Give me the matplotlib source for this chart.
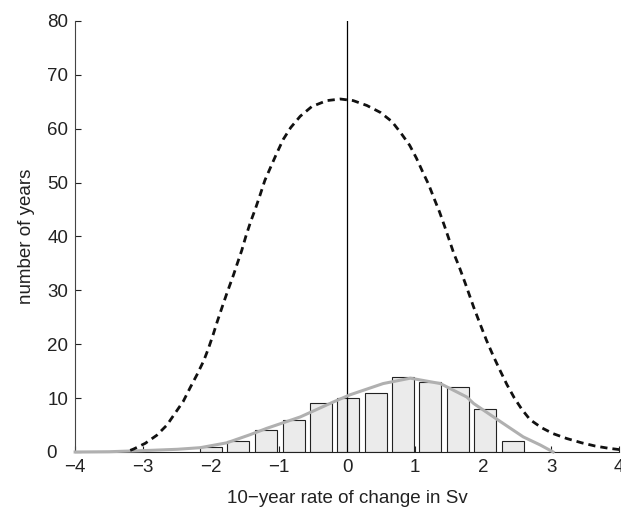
import matplotlib.pyplot as plt
from matplotlib.transforms import ScaledTranslation

plt.rcParams["font.family"] = ["Liberation Sans", "DejaVu Sans"]
plt.rcParams["axes.unicode_minus"] = True

# histogram of 10-year rates
bin_centers = [-2.0, -1.6, -1.19, -0.785, -0.38, 0.015, 0.42, 0.825, 1.22, 1.63, 2.03, 2.44]
counts = [1, 2, 4, 6, 9, 10, 11, 14, 13, 12, 8, 2]
bar_width = 0.32

# gray fitted curve
fit_x = [-4.0, -3.5, -2.9, -2.5, -2.16, -1.77, -1.43, -1.18, -0.69, -0.2, 0.04, 0.53, 0.93,
         1.37, 1.76, 1.86, 2.2, 2.59, 2.84, 3.03]
fit_y = [0.0, 0.05, 0.3, 0.5, 0.8, 1.7, 3.2, 4.4, 6.5, 9.3, 10.6, 12.7, 13.7,
         12.7, 10.2, 9.0, 6.1, 2.8, 1.3, 0.0]

# dashed curve
dash_x = [-3.19, -3.14, -2.97, -2.80, -2.65, -2.53, -2.41, -2.31, -2.21, -2.11, -2.04, -1.97,
          -1.91, -1.83, -1.77, -1.67, -1.62, -1.55, -1.49, -1.42, -1.35, -1.28, -1.21, -1.12,
          -1.04, -0.94, -0.83, -0.69, -0.52, -0.30, -0.10, 0.09, 0.29, 0.49, 0.66, 0.79,
          0.92, 1.02, 1.11, 1.20, 1.28, 1.36, 1.43, 1.50, 1.57, 1.65, 1.74, 1.86, 1.96,
          2.05, 2.15, 2.25, 2.35, 2.46, 2.57, 2.69, 2.86, 3.03, 3.23, 3.45, 3.65, 3.84, 4.0]
dash_y = [0.3, 0.55, 1.6, 3.1, 5.0, 7.2, 9.4, 11.9, 14.3, 16.9, 19.2, 21.8,
          24.2, 27.2, 29.4, 32.9, 34.8, 37.4, 40.0, 42.7, 45.1, 47.7, 50.4, 53.0,
          55.3, 58.0, 60.2, 62.3, 64.1, 65.2, 65.5, 65.2, 64.3, 63.0, 61.3, 59.2,
          56.9, 54.5, 52.0, 49.6, 47.0, 44.5, 42.0, 39.4, 36.8, 34.3, 31.2, 26.9, 23.6,
          20.7, 17.8, 15.1, 12.5, 10.0, 7.9, 6.0, 4.5, 3.4, 2.5, 1.7, 1.1, 0.7, 0.45]

x_ticks = [-4, -3, -2, -1, 0, 1, 2, 3, 4]
y_ticks = [0, 10, 20, 30, 40, 50, 60, 70, 80]

fig = plt.figure(figsize=(6.21, 5.09), dpi=100)
ax = fig.add_axes([0.121, 0.112, 0.876, 0.847])

ax.bar(bin_centers, counts, width=bar_width, facecolor="#ebebeb", edgecolor="#222222",
       linewidth=0.8, zorder=2)
ax.plot([0, 0], [0, 80], color="black", linewidth=0.9, zorder=3)
ax.plot(fit_x, fit_y, color="#b0b0b0", linewidth=2.2, zorder=4, clip_on=False)
ax.plot(dash_x, dash_y, color="#111111", linewidth=2.0, dashes=(2.6, 1.8), zorder=5)

ax.set_xlim(-4, 4)
ax.set_ylim(0, 80)
ax.set_xticks(x_ticks)
ax.set_yticks(y_ticks)
ax.tick_params(direction="in", length=4, width=0.8, labelsize=13.5, colors="#222222", pad=5)
ax.spines["top"].set_visible(False)
ax.spines["right"].set_visible(False)
ax.spines["left"].set_color("#444444")
ax.spines["bottom"].set_color("#222222")
ax.set_xlabel("10\u2212year rate of change in Sv", fontsize=13.5, labelpad=10, color="#222222")
ax.set_ylabel("number of years", fontsize=13.5, labelpad=8, color="#222222")

# nudge the "0" on the y axis left, away from the "-4" below it
lab0 = ax.get_yticklabels()[0]
lab0.set_transform(lab0.get_transform() + ScaledTranslation(-8 / 72, 0, fig.dpi_scale_trans))

fig.savefig("out.png", dpi=100)
